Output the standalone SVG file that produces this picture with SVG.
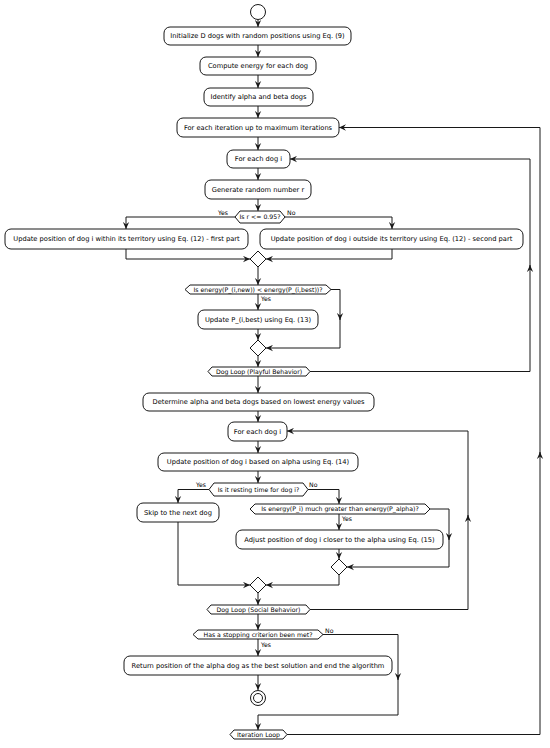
<svg xmlns="http://www.w3.org/2000/svg" width="550" height="748" viewBox="0 0 550 748">
<defs>
<style>
.box{fill:#ffffff;stroke:#181818;stroke-width:1}
.hex{fill:#ffffff;stroke:#181818;stroke-width:1}
.ln{fill:none;stroke:#181818;stroke-width:1}
.t{font-family:"DejaVu Sans",sans-serif;font-size:6.7px;fill:#000;text-anchor:middle}
.d{font-family:"DejaVu Sans",sans-serif;font-size:6.2px;fill:#000;text-anchor:middle}
.l{font-family:"DejaVu Sans",sans-serif;font-size:6.2px;fill:#000}
</style>
<marker id="ah" viewBox="0 0 10 10" refX="10" refY="5" markerWidth="7" markerHeight="7" markerUnits="userSpaceOnUse" orient="auto">
<path d="M0,0.5 L10,5 L0,9.5 L3.5,5 Z" fill="#181818"/>
</marker>
</defs>
<g id="connectors">
<line class="ln" x1="258" y1="20" x2="258" y2="27" marker-end="url(#ah)"/>
<line class="ln" x1="258" y1="45" x2="258" y2="57" marker-end="url(#ah)"/>
<line class="ln" x1="258" y1="75" x2="258" y2="88" marker-end="url(#ah)"/>
<line class="ln" x1="258" y1="106" x2="258" y2="118" marker-end="url(#ah)"/>
<line class="ln" x1="258" y1="137" x2="258" y2="150" marker-end="url(#ah)"/>
<line class="ln" x1="258" y1="168" x2="258" y2="180" marker-end="url(#ah)"/>
<line class="ln" x1="258" y1="199" x2="258" y2="211" marker-end="url(#ah)"/>
<polyline class="ln" points="235,217 126,217 126,229" marker-end="url(#ah)"/>
<polyline class="ln" points="285,217 392,217 392,229" marker-end="url(#ah)"/>
<polyline class="ln" points="126,249 126,259 250,259" marker-end="url(#ah)"/>
<polyline class="ln" points="392,249 392,259 266,259" marker-end="url(#ah)"/>
<line class="ln" x1="258" y1="267" x2="258" y2="285" marker-end="url(#ah)"/>
<polyline class="ln" points="331,289.5 340,289.5 340,320" marker-end="url(#ah)"/>
<polyline class="ln" points="340,318 340,348 266,348" marker-end="url(#ah)"/>
<line class="ln" x1="258" y1="294" x2="258" y2="310" marker-end="url(#ah)"/>
<line class="ln" x1="258" y1="329" x2="258" y2="340" marker-end="url(#ah)"/>
<line class="ln" x1="258" y1="356" x2="258" y2="367" marker-end="url(#ah)"/>
<polyline class="ln" points="310,371.5 530,371.5 530,265" marker-end="url(#ah)"/>
<polyline class="ln" points="530,268 530,159 290,159" marker-end="url(#ah)"/>
<line class="ln" x1="258" y1="376" x2="258" y2="393" marker-end="url(#ah)"/>
<line class="ln" x1="258" y1="411" x2="258" y2="422" marker-end="url(#ah)"/>
<line class="ln" x1="258" y1="441" x2="258" y2="453" marker-end="url(#ah)"/>
<line class="ln" x1="258" y1="471" x2="258" y2="483" marker-end="url(#ah)"/>
<polyline class="ln" points="209,489.5 178,489.5 178,503" marker-end="url(#ah)"/>
<polyline class="ln" points="308,489.5 339,489.5 339,504" marker-end="url(#ah)"/>
<line class="ln" x1="339" y1="514" x2="339" y2="530" marker-end="url(#ah)"/>
<polyline class="ln" points="430,509 449,509 449,540" marker-end="url(#ah)"/>
<polyline class="ln" points="449,537 449,567 347,567" marker-end="url(#ah)"/>
<line class="ln" x1="339" y1="549" x2="339" y2="559" marker-end="url(#ah)"/>
<polyline class="ln" points="339,575 339,585 266,585" marker-end="url(#ah)"/>
<polyline class="ln" points="178,522 178,585 250,585" marker-end="url(#ah)"/>
<line class="ln" x1="258" y1="593" x2="258" y2="605" marker-end="url(#ah)"/>
<polyline class="ln" points="310,609.5 468,609.5 468,515" marker-end="url(#ah)"/>
<polyline class="ln" points="468,518 468,431 287,431" marker-end="url(#ah)"/>
<line class="ln" x1="258" y1="614" x2="258" y2="630" marker-end="url(#ah)"/>
<polyline class="ln" points="323,634.5 398,634.5 398,680" marker-end="url(#ah)"/>
<polyline class="ln" points="398,677 398,715 258,715 258,730" marker-end="url(#ah)"/>
<line class="ln" x1="258" y1="639" x2="258" y2="656" marker-end="url(#ah)"/>
<line class="ln" x1="258" y1="675" x2="258" y2="690" marker-end="url(#ah)"/>
<polyline class="ln" points="287,734.5 540,734.5 540,452" marker-end="url(#ah)"/>
<polyline class="ln" points="540,455 540,127.5 339,127.5" marker-end="url(#ah)"/>
</g>
<g id="start"><circle cx="258" cy="12" r="7.5" class="box"/></g>
<g id="n1"><rect class="box" x="164" y="27" width="187" height="18" rx="6"/><text class="t" x="257.5" y="38.4">Initialize D dogs with random positions using Eq. (9)</text></g>
<g id="n2"><rect class="box" x="200" y="57" width="116" height="18" rx="6"/><text class="t" x="258" y="68.4">Compute energy for each dog</text></g>
<g id="n3"><rect class="box" x="204" y="88" width="109" height="18" rx="6"/><text class="t" x="258.5" y="99.4">Identify alpha and beta dogs</text></g>
<g id="n4"><rect class="box" x="177" y="118" width="162" height="19" rx="6"/><text class="t" x="258" y="129.9">For each iteration up to maximum iterations</text></g>
<g id="n5"><rect class="box" x="227" y="150" width="63" height="18" rx="6"/><text class="t" x="258.5" y="161.4">For each dog i</text></g>
<g id="n6"><rect class="box" x="205" y="180" width="106" height="19" rx="6"/><text class="t" x="258" y="191.9">Generate random number r</text></g>
<g id="d1"><polygon class="hex" points="235,217 240,211 280,211 285,217 280,223 240,223"/><text class="d" x="260" y="219.2">Is r &lt;= 0.95?</text>
<text class="l" x="218" y="215">Yes</text><text class="l" x="287" y="215">No</text></g>
<g id="n7"><rect class="box" x="5" y="229" width="243" height="20" rx="6"/><text class="t" x="126.5" y="241.4">Update position of dog i within its territory using Eq. (12) - first part</text></g>
<g id="n8"><rect class="box" x="260" y="229" width="263" height="20" rx="6"/><text class="t" x="391.5" y="241.4">Update position of dog i outside its territory using Eq. (12) - second part</text></g>
<g id="m1"><polygon class="hex" points="258,251 266,259 258,267 250,259"/></g>
<g id="d2"><polygon class="hex" points="185,289.5 190,285 326,285 331,289.5 326,294 190,294"/><text class="d" x="258" y="291.7">Is energy(P_(i,new)) &lt; energy(P_(i,best))?</text>
<text class="l" x="261" y="301">Yes</text></g>
<g id="n9"><rect class="box" x="198" y="310" width="120" height="19" rx="6"/><text class="t" x="258" y="321.9">Update P_(i,best) using Eq. (13)</text></g>
<g id="m2"><polygon class="hex" points="258,340 266,348 258,356 250,348"/></g>
<g id="loop1"><polygon class="hex" points="208,371.5 212,367 306,367 310,371.5 306,376 212,376"/><text class="d" x="259" y="373.7">Dog Loop (Playful Behavior)</text></g>
<g id="n10"><rect class="box" x="143" y="393" width="231" height="18" rx="6"/><text class="t" x="258.5" y="404.4">Determine alpha and beta dogs based on lowest energy values</text></g>
<g id="n11"><rect class="box" x="228" y="422" width="59" height="19" rx="6"/><text class="t" x="257.5" y="433.9">For each dog i</text></g>
<g id="n12"><rect class="box" x="158" y="453" width="200" height="18" rx="6"/><text class="t" x="258" y="464.4">Update position of dog i based on alpha using Eq. (14)</text></g>
<g id="d3"><polygon class="hex" points="209,489.5 214,483 303,483 308,489.5 303,496 214,496"/><text class="d" x="258.5" y="491.7">Is it resting time for dog i?</text>
<text class="l" x="196" y="487">Yes</text><text class="l" x="309" y="487">No</text></g>
<g id="n13"><rect class="box" x="137" y="503" width="82" height="19" rx="6"/><text class="t" x="178" y="514.9">Skip to the next dog</text></g>
<g id="d4"><polygon class="hex" points="250,509 255,504 425,504 430,509 425,514 255,514"/><text class="d" x="340" y="511.2">Is energy(P_i) much greater than energy(P_alpha)?</text>
<text class="l" x="342" y="521">Yes</text></g>
<g id="n14"><rect class="box" x="236" y="530" width="207" height="19" rx="6"/><text class="t" x="339.5" y="541.9">Adjust position of dog i closer to the alpha using Eq. (15)</text></g>
<g id="m3"><polygon class="hex" points="339,559 347,567 339,575 331,567"/></g>
<g id="m4"><polygon class="hex" points="258,577 266,585 258,593 250,585"/></g>
<g id="loop2"><polygon class="hex" points="207,609.5 211,605 306,605 310,609.5 306,614 211,614"/><text class="d" x="258.5" y="611.7">Dog Loop (Social Behavior)</text></g>
<g id="d5"><polygon class="hex" points="193,634.5 198,630 318,630 323,634.5 318,639 198,639"/><text class="d" x="258" y="636.7">Has a stopping criterion been met?</text>
<text class="l" x="325" y="633">No</text><text class="l" x="261" y="647">Yes</text></g>
<g id="n15"><rect class="box" x="124" y="656" width="268" height="19" rx="6"/><text class="t" x="258" y="667.9">Return position of the alpha dog as the best solution and end the algorithm</text></g>
<g id="end"><circle cx="258" cy="698" r="7.5" class="box"/><circle cx="258" cy="698" r="4.5" class="box"/></g>
<g id="loop3"><polygon class="hex" points="230,734.5 234,730 283,730 287,734.5 283,739 234,739"/><text class="d" x="258.5" y="736.7">Iteration Loop</text></g>
</svg>
